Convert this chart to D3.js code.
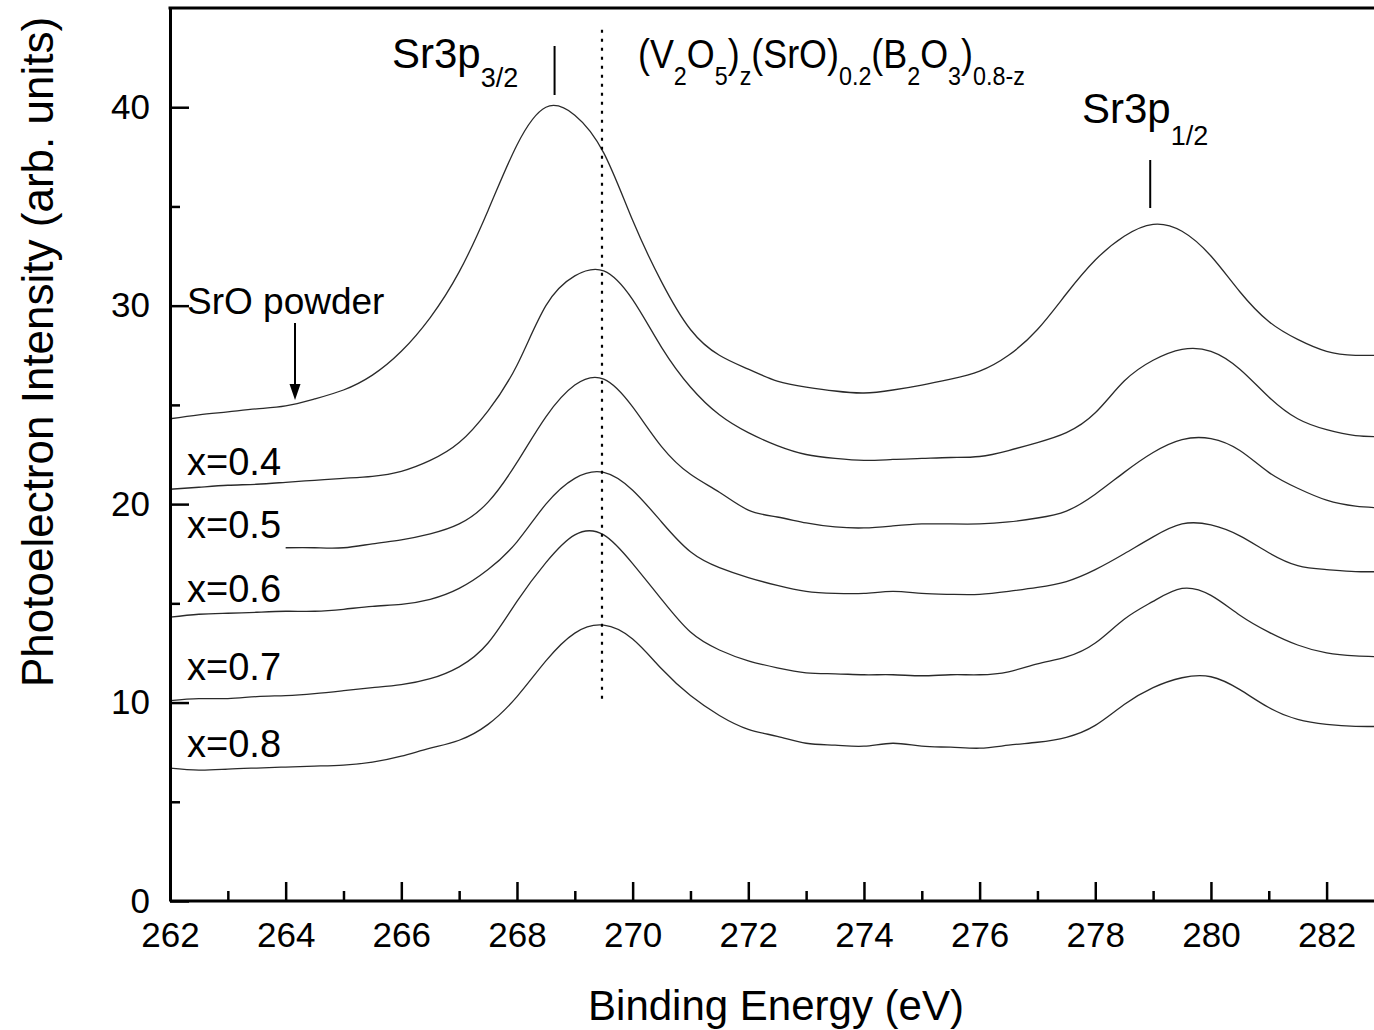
<!DOCTYPE html>
<html><head><meta charset="utf-8">
<script src="https://cdn.jsdelivr.net/npm/d3@7"></script>
<style>
html,body{margin:0;padding:0;background:#fff;}
svg{display:block;font-family:"Liberation Sans",Arial,Helvetica,sans-serif;}
</style></head>
<body><svg id="chart" width="1374" height="1030"></svg>
<script>
// ---------- data ----------
const energy = [262,262.5,263,263.5,264,264.5,265,265.5,266,266.5,267,267.5,268,268.5,269,269.5,270,270.5,271,271.5,272,272.5,273,273.5,274,274.5,275,275.5,276,276.5,277,277.5,278,278.5,279,279.5,280,280.5,281,281.5,282,282.5,283];
const sroPowder = [24.3,24.5,24.65,24.8,24.95,25.3,25.75,26.5,27.7,29.4,31.7,34.8,38.1,40.0,39.6,37.7,34.3,31.2,28.8,27.5,26.8,26.2,25.9,25.7,25.6,25.75,26.0,26.3,26.7,27.5,28.8,30.6,32.3,33.5,34.1,33.75,32.5,30.7,29.2,28.3,27.7,27.5,27.5];
const x04 = [20.75,20.85,20.95,21.0,21.1,21.2,21.3,21.4,21.65,22.2,23.1,24.7,27.0,30.0,31.5,31.75,30.3,27.9,25.9,24.5,23.6,22.95,22.5,22.3,22.2,22.25,22.3,22.35,22.4,22.7,23.1,23.6,24.6,26.2,27.25,27.8,27.7,26.8,25.4,24.3,23.75,23.45,23.4];
const x05 = [null,null,null,null,17.8,17.8,17.8,18.0,18.2,18.5,19.0,20.1,22.1,24.4,26.0,26.3,24.9,22.9,21.5,20.6,19.7,19.35,19.05,18.85,18.8,18.9,19.0,19.0,19.0,19.1,19.3,19.65,20.5,21.6,22.6,23.25,23.3,22.7,21.6,20.8,20.2,19.9,19.8];
const x06 = [14.3,14.45,14.5,14.55,14.6,14.6,14.7,14.85,14.95,15.2,15.75,16.7,18.1,20.0,21.3,21.6,20.7,19.1,17.6,16.8,16.3,15.9,15.6,15.5,15.5,15.6,15.5,15.45,15.45,15.6,15.8,16.1,16.7,17.5,18.35,19.0,18.95,18.4,17.55,16.9,16.7,16.6,16.6];
const x07 = [10.1,10.2,10.2,10.3,10.35,10.45,10.6,10.75,10.9,11.2,11.8,13.0,15.1,17.05,18.45,18.45,17.0,15.2,13.55,12.65,12.1,11.75,11.5,11.45,11.4,11.4,11.35,11.4,11.4,11.55,11.95,12.3,13.0,14.2,15.1,15.75,15.4,14.4,13.55,12.9,12.5,12.35,12.3];
const x08 = [6.7,6.6,6.65,6.7,6.75,6.8,6.85,7.0,7.3,7.7,8.1,8.9,10.3,12.1,13.5,13.9,13.2,11.7,10.35,9.35,8.65,8.3,7.95,7.85,7.8,7.95,7.8,7.75,7.7,7.85,8.0,8.25,8.85,9.9,10.75,11.25,11.3,10.65,9.75,9.15,8.9,8.8,8.8];
const seriesList = [sroPowder, x04, x05, x06, x07, x08];
const seriesLabels = ["SrO powder","x=0.4","x=0.5","x=0.6","x=0.7","x=0.8"];
const xMajorTicks = [262,264,266,268,270,272,274,276,278,280,282];
const xMinorTicks = [263,265,267,269,271,273,275,277,279,281,283];
const yMajorTicks = [0,10,20,30,40];
const yMinorTicks = [5,15,25,35];
const peak32Energy = 268.65, peak12Energy = 278.95, refLineEnergy = 269.47;

// ---------- layout ----------
const svg = d3.select("#chart");
const L = 170, B = 901, T = 8;
const x = d3.scaleLinear().domain([262, 283]).range([L, L + 21 * 57.83]);
const y = d3.scaleLinear().domain([0, 45]).range([B, T]);
const W = 1374;

svg.append("defs").append("clipPath").attr("id","clip")
  .append("rect").attr("x", L).attr("y", T).attr("width", W - L).attr("height", B - T);

// curves
const line = d3.line()
  .defined(d => d != null)
  .x((d, i) => x(energy[i]))
  .y(d => y(d))
  .curve(d3.curveNatural);
const g = svg.append("g").attr("clip-path","url(#clip)");
seriesList.forEach(s => {
  g.append("path").attr("d", line(s)).attr("fill","none")
    .attr("stroke","#2a2a2a").attr("stroke-width",1.3);
});

// dotted reference line
svg.append("line")
  .attr("x1", x(refLineEnergy)).attr("x2", x(refLineEnergy))
  .attr("y1", y(43.9)).attr("y2", y(10.1))
  .attr("stroke","#000").attr("stroke-width",2.2).attr("stroke-dasharray","3,6");

// axes
const fontTick = "35px";
const xAxis = svg.append("g").attr("transform",`translate(0,${B})`)
  .call(d3.axisBottom(x).tickValues(xMajorTicks).tickSize(-19).tickSizeOuter(0).tickPadding(21).tickFormat(d3.format("d")));
const xMinor = svg.append("g").attr("transform",`translate(0,${B})`)
  .call(d3.axisBottom(x).tickValues(xMinorTicks).tickSize(-10).tickFormat(""));
xMinor.select(".domain").remove();
const yAxis = svg.append("g").attr("transform",`translate(${L},0)`)
  .call(d3.axisLeft(y).tickValues(yMajorTicks).tickSize(-19).tickSizeOuter(0).tickPadding(20).tickFormat(d3.format("d")));
const yMinor = svg.append("g").attr("transform",`translate(${L},0)`)
  .call(d3.axisLeft(y).tickValues(yMinorTicks).tickSize(-10).tickFormat(""));
yMinor.select(".domain").remove();
[xAxis, yAxis].forEach(a => {
  a.select(".domain").attr("stroke","#000").attr("stroke-width",3);
  a.selectAll(".tick text").attr("font-size", fontTick).attr("fill","#000")
    .attr("font-family",'"Liberation Sans",Arial,sans-serif');
});
xAxis.select(".domain").attr("d", `M${L},0H${W}`);
[xAxis, yAxis, xMinor, yMinor].forEach(a => a.selectAll(".tick line").attr("stroke","#000").attr("stroke-width",2.5));
// top border
svg.append("line").attr("x1", L - 1.5).attr("x2", W).attr("y1", T).attr("y2", T)
  .attr("stroke","#000").attr("stroke-width",3);

// axis titles
svg.append("text").attr("x", 776).attr("y", 1020).attr("text-anchor","middle")
  .attr("font-size","42px").text("Binding Energy (eV)");
svg.append("text").attr("transform","translate(53,352) rotate(-90)").attr("text-anchor","middle")
  .attr("font-size","44px").text("Photoelectron Intensity (arb. units)");

// series labels
const labelPos = [[187,314],[187,475],[187,538],[187,602],[187,680],[187,757]];
seriesLabels.forEach((t, i) => {
  svg.append("text").attr("x", labelPos[i][0]).attr("y", labelPos[i][1])
    .attr("font-size", i === 0 ? "37px" : "38px").text(t);
});

// arrow to SrO powder curve
const ax = 295;
svg.append("line").attr("x1", ax).attr("x2", ax).attr("y1", 323).attr("y2", 386)
  .attr("stroke","#000").attr("stroke-width",2);
svg.append("path").attr("d", `M${ax-5.5},384L${ax+5.5},384L${ax},400Z`).attr("fill","#000");

// peak markers
svg.append("line").attr("x1", x(peak32Energy)).attr("x2", x(peak32Energy)).attr("y1", 46).attr("y2", 95)
  .attr("stroke","#000").attr("stroke-width",2);
svg.append("line").attr("x1", x(peak12Energy)).attr("x2", x(peak12Energy)).attr("y1", 160).attr("y2", 208)
  .attr("stroke","#000").attr("stroke-width",2);

function rich(xp, yp, parts, mainSize, subSize, subShift) {
  const t = svg.append("text").attr("x", xp).attr("y", yp).attr("font-size", mainSize);
  let prevSub = false;
  parts.forEach(([txt, sub]) => {
    const ts = t.append("tspan").text(txt);
    if (sub) { ts.attr("font-size", subSize); ts.attr("dy", prevSub ? 0 : subShift); }
    else { ts.attr("dy", prevSub ? -subShift : 0); }
    prevSub = sub;
  });
  return t;
}
rich(392, 68, [["Sr3p",false],["3/2",true]], "42px", "27px", 19);
rich(1082, 123, [["Sr3p",false],["1/2",true]], "42px", "27px", 22);
const f = rich(638, 68, [["(V",false],["2",true],["O",false],["5",true],[")",false],["z",true],["(SrO)",false],["0.2",true],["(B",false],["2",true],["O",false],["3",true],[")",false],["0.8-z",true]], "40px", "26px", 17);
const bw = f.node().getBBox().width;
f.attr("transform", `translate(638,0) scale(${387 / bw},1) translate(-638,0)`);
</script></body></html>
